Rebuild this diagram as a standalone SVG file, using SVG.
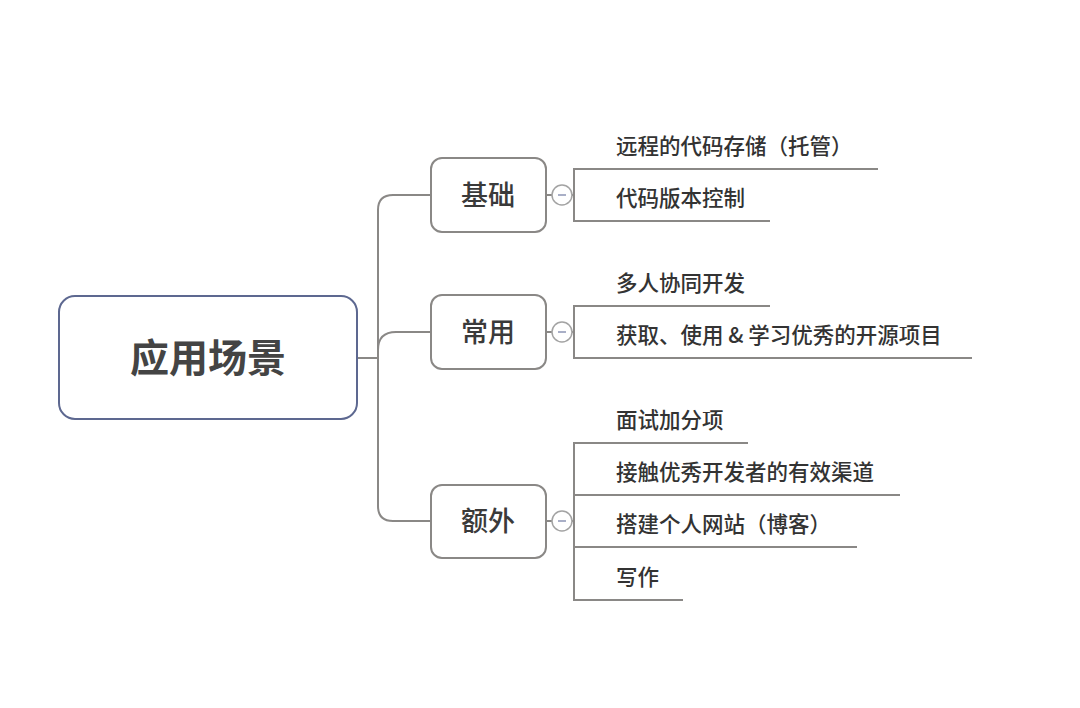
<svg xmlns="http://www.w3.org/2000/svg" width="1080" height="708" viewBox="0 0 1080 708">
<style>
.bg{fill:#ffffff}
.root{fill:#ffffff;stroke:#5d6890;stroke-width:2}
.main{fill:#ffffff;stroke:#8a8886;stroke-width:2}
.line{fill:none;stroke:#8a8886;stroke-width:2}
.tog{fill:#ffffff;stroke:#a3a3a3;stroke-width:1.5}
.minus{stroke:#8c94b4;stroke-width:1.5}
.t{font-family:"Noto Sans CJK SC","Noto Sans",sans-serif;fill:#333333}
.rt{font-size:39px;font-weight:bold;fill:#444444}
.mt{font-size:27px;font-weight:500;fill:#3a3a3a}
.st{font-size:21.5px;font-weight:500}
</style>
<rect class="bg" x="0" y="0" width="1080" height="708"/>
<g id="connectors">
<path class="line" d="M357,358 H378"/>
<path class="line" d="M431,195 H393 Q378,195 378,210 V506 Q378,521 393,521 H431"/>
<path class="line" d="M378,350 Q378,332 396,332 H431"/>
<path class="line" d="M546,195 H552"/>
<path class="line" d="M546,332 H552"/>
<path class="line" d="M546,521 H552"/>
<path class="line" d="M572,195 H574"/>
<path class="line" d="M572,332 H574"/>
<path class="line" d="M572,521 H574"/>
<path class="line" d="M878,169 H574 V221 H770"/>
<path class="line" d="M770,306 H574 V358 H972"/>
<path class="line" d="M748,443 H574 V600 H683"/>
<path class="line" d="M574,495 H900"/>
<path class="line" d="M574,547 H857"/>
</g>
<g id="root">
<rect class="root" x="59" y="296" width="298" height="123" rx="16"/>
<text class="t rt" x="208" y="372" text-anchor="middle">应用场景</text>
</g>
<g id="n-jichu">
<rect class="main" x="431" y="158" width="115" height="74" rx="11"/>
<text class="t mt" x="488" y="205" text-anchor="middle">基础</text>
<circle class="tog" cx="562" cy="195" r="10"/>
<path class="minus" d="M558,195 H566"/>
</g>
<g id="n-changyong">
<rect class="main" x="431" y="295" width="115" height="74" rx="11"/>
<text class="t mt" x="488" y="342" text-anchor="middle">常用</text>
<circle class="tog" cx="562" cy="332" r="10"/>
<path class="minus" d="M558,332 H566"/>
</g>
<g id="n-ewai">
<rect class="main" x="431" y="485" width="115" height="73" rx="11"/>
<text class="t mt" x="488" y="531" text-anchor="middle">额外</text>
<circle class="tog" cx="562" cy="521" r="10"/>
<path class="minus" d="M558,521 H566"/>
</g>
<g id="c1"><text class="t st" x="616" y="154">远程的代码存储（托管）</text></g>
<g id="c2"><text class="t st" x="616" y="206">代码版本控制</text></g>
<g id="c3"><text class="t st" x="616" y="291">多人协同开发</text></g>
<g id="c4"><text class="t st" x="616" y="343" xml:space="preserve">获取、使用 &amp; 学习优秀的开源项目</text></g>
<g id="c5"><text class="t st" x="616" y="428">面试加分项</text></g>
<g id="c6"><text class="t st" x="616" y="480">接触优秀开发者的有效渠道</text></g>
<g id="c7"><text class="t st" x="616" y="532">搭建个人网站（博客）</text></g>
<g id="c8"><text class="t st" x="616" y="585">写作</text></g>
</svg>
